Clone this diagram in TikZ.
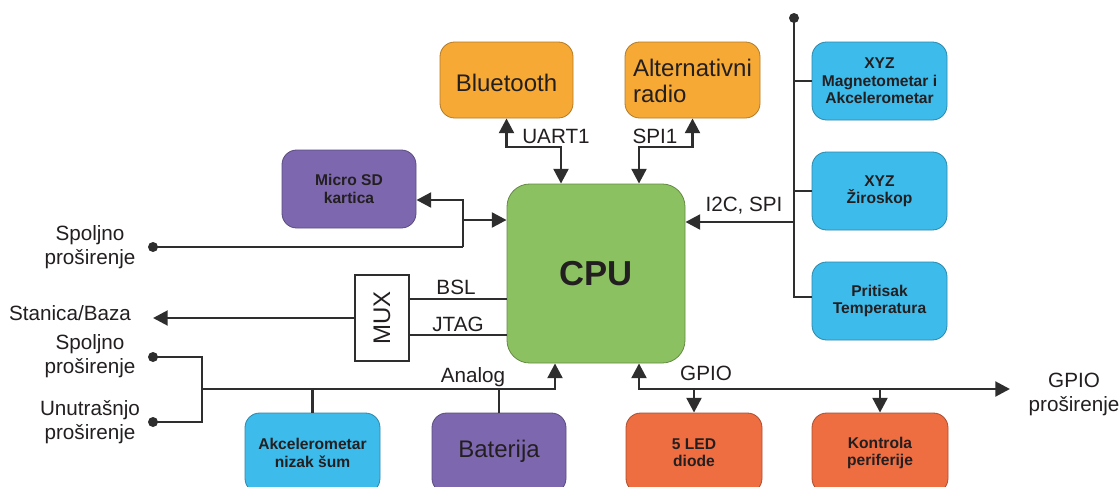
\documentclass[tikz,border=0pt]{standalone}
\usepackage{fontspec}
\setmainfont{Liberation Sans}
\usetikzlibrary{arrows.meta}

\definecolor{txt}{HTML}{231F20}
\definecolor{wirec}{HTML}{2E2E2E}
\definecolor{orangebox}{HTML}{F7A935}
\definecolor{greenbox}{HTML}{8CC161}
\definecolor{purplebox}{HTML}{7D68B0}
\definecolor{bluebox}{HTML}{3DBCEC}
\definecolor{redbox}{HTML}{EE6D41}

\tikzset{
  box/.style={rectangle, rounded corners=11pt, draw=#1!72!black, fill=#1,
    line width=0.6pt, inner sep=0pt, text=txt, align=center},
  bigtxt/.style={font=\fontsize{18}{20}\selectfont, text=txt, inner sep=0pt},
  smtxt/.style={font=\bfseries\fontsize{11.7}{13}\selectfont},
  lbl/.style={font=\fontsize{15.5}{18}\selectfont, text=txt, inner sep=0pt, align=center},
  wire/.style={draw=wirec, line width=2.2pt},
  arr/.style={wire, -{Triangle[length=11pt,width=11pt]}},
  biarr/.style={wire, {Triangle[length=11pt,width=11pt]}-{Triangle[length=11pt,width=11pt]}},
  dot/.style={circle, fill=wirec, inner sep=0pt, minimum size=7.5pt},
}

\begin{document}
\begin{tikzpicture}[x=0.75pt, y=-0.75pt]
\useasboundingbox (0,0) rectangle (1120,486);
\clip (0,0) rectangle (1120,486);
\fill[white] (0,0) rectangle (1120,486);

% processor
\node[box=greenbox, rounded corners=17pt, minimum width=133.5pt, minimum height=134.25pt,
      font=\bfseries\fontsize{26}{28}\selectfont] (cpu) at (596,273.5) {CPU};

% radios
\node[box=orangebox, minimum width=99.75pt, minimum height=57pt] (bt) at (506.5,80) {};
\node[bigtxt] (bttxt) at (506.5,83) {Bluetooth};
\node[box=orangebox, minimum width=101.25pt, minimum height=57pt] (radio) at (692.5,80) {};
\node[bigtxt, align=left] (radiotxt) at (692.5,84)
  {\begin{tabular}{@{}l@{}}Alternativni\\[-1pt] radio\end{tabular}};

% storage
\node[box=purplebox, smtxt, minimum width=100.5pt, minimum height=58.5pt] (sd) at (349,189) {Micro SD\\kartica};

% sensors on the I2C/SPI bus
\node[box=bluebox, smtxt, minimum width=101.25pt, minimum height=58.5pt] (mag) at (879.5,81) {XYZ\\Magnetometar i\\Akcelerometar};
\node[box=bluebox, smtxt, minimum width=101.25pt, minimum height=58.5pt] (gyro) at (879.5,191) {XYZ\\Žiroskop};
\node[box=bluebox, smtxt, minimum width=101.25pt, minimum height=58.5pt] (pres) at (879.5,301) {Pritisak\\Temperatura};

% multiplexer
\node[rectangle, draw=wirec, fill=white, line width=2.2pt, minimum width=40.5pt, minimum height=64.5pt,
      inner sep=0pt] (mux) at (382,318) {};
\node[rotate=90, text=txt, font=\fontsize{18}{20}\selectfont, inner sep=0pt] (muxlbl) at (mux.center) {MUX};

% bottom row
\node[box=bluebox, smtxt, minimum width=101.25pt, minimum height=60pt] (akc) at (312.5,453) {Akcelerometar\\nizak šum};
\node[box=purplebox, minimum width=100.5pt, minimum height=60pt] (bat) at (499,453) {};
\node[bigtxt] (battxt) at (499,451) {Baterija};
\node[box=redbox, smtxt, minimum width=102pt, minimum height=60pt] (led) at (694,453) {5 LED\\diode};
\node[box=redbox, smtxt, minimum width=102pt, minimum height=60pt] (kon) at (880,453) {Kontrola\\periferije};

% outer labels
\node[lbl] (spo1lbl) at (90,247.5) {Spoljno\\proširenje};
\node[lbl, anchor=base] (stanlbl) at (70,320) {Stanica/Baza};
\node[lbl] (spo2lbl) at (90,356) {Spoljno\\proširenje};
\node[lbl] (unulbl) at (90,422) {Unutrašnjo\\proširenje};
\node[lbl] (gpiolbl) at (1074,394) {GPIO\\proširenje};

% terminal dots
\node[dot] (spo1) at (153,247) {};
\node[dot] (spo2) at (153,357) {};
\node[dot] (unu) at (153,422) {};
\node[dot] (bustop) at (794,18) {};

% UART1 / SPI1 links
\coordinate (u1) at (561,147);
\coordinate (s1) at (639,147);
\draw[biarr] (bt.south) |- (u1) -- (u1 |- cpu.north);
\draw[biarr] (radio.south) |- (s1) -- (s1 |- cpu.north);
\node[lbl, anchor=base] (uartlbl) at (556,143) {UART1};
\node[lbl, anchor=base] (spi1lbl) at (655,143) {SPI1};

% micro SD and external expansion
\coordinate (sdjoin) at (463,247);
\coordinate (sdtap) at (463,200);
\coordinate (cputap) at (463,220);
\draw[wire] (spo1.center) -- (sdjoin);
\draw[arr] (sdjoin) -- (sdtap) -- (sdtap -| sd.east);
\draw[arr] (cputap) -- (cputap -| cpu.west);

% sensor bus
\coordinate (busbot) at (794,297);
\coordinate (i2c) at (794,222);
\draw[wire] (bustop.center) -- (busbot) -- (busbot -| pres.west);
\draw[wire] (bustop |- mag.west) -- (mag.west);
\draw[wire] (bustop |- gyro.west) -- (gyro.west);
\draw[arr] (i2c) -- (i2c -| cpu.east);
\node[lbl, anchor=base] (i2clbl) at (744,211) {I2C, SPI};

% debug / boot loader through the multiplexer
\coordinate (yb) at (0,299);
\coordinate (yj) at (0,335);
\coordinate (stantip) at (153,318);
\draw[wire] (mux.east |- yb) -- (cpu.west |- yb);
\draw[wire] (mux.east |- yj) -- (cpu.west |- yj);
\draw[arr] (mux.west) -- (stantip);
\node[lbl, anchor=base] (bsllbl) at (456,294) {BSL};
\node[lbl, anchor=base] (jtaglbl) at (458,331) {JTAG};

% analog inputs
\coordinate (aj) at (202,389);
\coordinate (atap) at (555,389);
\draw[wire] (spo2.center) -| (aj) |- (unu.center);
\draw[arr] (aj) -- (atap) -- (atap |- cpu.south);
\draw[wire] (akc.north) -- (akc.north |- aj);
\draw[wire] (bat.north) -- (bat.north |- aj);
\node[lbl, anchor=base] (analbl) at (473,382) {Analog};

% general purpose I/O
\coordinate (g0) at (639,389);
\coordinate (gend) at (1010,389);
\draw[biarr] (g0 |- cpu.south) -- (g0) -- (gend);
\draw[arr] (led.north |- g0) -- (led.north);
\draw[arr] (kon.north |- g0) -- (kon.north);
\node[lbl, anchor=base] (gpiotop) at (706,380) {GPIO};
\end{tikzpicture}
\end{document}
